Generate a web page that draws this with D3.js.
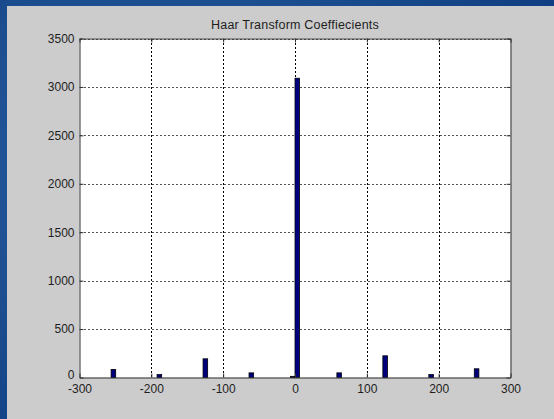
<!DOCTYPE html>
<html>
<head>
<meta charset="utf-8">
<script src="https://cdn.jsdelivr.net/npm/d3@7"></script>
<style>
  html, body { margin: 0; padding: 0; background: #174a8c; }
  svg { display: block; }
  text { font-family: Arial, "Liberation Sans", sans-serif; }
</style>
</head>
<body>
<svg id="chart" width="554" height="419"></svg>
<script>
// Histogram of Haar transform coefficients (bin centre -> count)
const binCenters = [-252.8, -188.8, -124.8, -60.8, -3.2, 3.2, 61.5, 125.5, 189.5, 252.8];
const binCounts  = [83, 30, 193, 48, 12, 3090, 48, 224, 30, 90];
const binWidth = 6.4;

const xTicks = [-300, -200, -100, 0, 100, 200, 300];
const yTicks = [0, 500, 1000, 1500, 2000, 2500, 3000, 3500];
const titleText = "Haar Transform Coeffiecients";

const W = 554, H = 419;
const svg = d3.select("#chart");

// slide background
const defs = svg.append("defs");
const rg = defs.append("radialGradient").attr("id", "bg").attr("cx", "30%").attr("cy", "40%").attr("r", "80%");
rg.append("stop").attr("offset", "0%").attr("stop-color", "#2a5ea0");
rg.append("stop").attr("offset", "100%").attr("stop-color", "#0f3f82");
svg.append("rect").attr("width", W).attr("height", H).attr("fill", "url(#bg)");

// figure panel
svg.append("rect").attr("x", 7).attr("y", 6).attr("width", W - 7).attr("height", H - 6).attr("fill", "#cccccc");

const plot = { left: 79.5, right: 510.5, top: 38.5, bottom: 377.5 };
const x = d3.scaleLinear().domain([-300, 300]).range([plot.left, plot.right]);
const y = d3.scaleLinear().domain([0, 3500]).range([plot.bottom, plot.top]);

// axes background
svg.append("rect")
  .attr("x", plot.left).attr("y", plot.top)
  .attr("width", plot.right - plot.left).attr("height", plot.bottom - plot.top)
  .attr("fill", "#ffffff");

// grid
const grid = svg.append("g").attr("stroke", "#000").attr("stroke-width", 1).attr("stroke-dasharray", "2,2").attr("shape-rendering", "crispEdges");
grid.selectAll("line.v").data(xTicks.slice(1, -1)).enter().append("line")
  .attr("x1", d => Math.round(x(d)) + 0.5).attr("x2", d => Math.round(x(d)) + 0.5)
  .attr("y1", plot.top).attr("y2", plot.bottom);
grid.selectAll("line.h").data(yTicks.slice(1)).enter().append("line")
  .attr("stroke", "#555")
  .attr("y1", d => Math.round(y(d)) + 0.5).attr("y2", d => Math.round(y(d)) + 0.5)
  .attr("x1", plot.left).attr("x2", plot.right);

// bars
const bw = x(binWidth) - x(0);
svg.append("g").selectAll("rect").data(binCenters).enter().append("rect")
  .attr("x", (d) => x(d) - bw / 2)
  .attr("width", bw)
  .attr("y", (d, i) => y(binCounts[i]))
  .attr("height", (d, i) => y(0) - y(binCounts[i]))
  .attr("fill", "#00007f")
  .attr("stroke", "#000")
  .attr("stroke-width", 0.8);

// axes: inward ticks on all four sides
const tickLen = 4;
const plain = d => String(d);
const styleAxis = g => {
  g.select(".domain").attr("stroke", "#333");
  g.selectAll(".tick line").attr("stroke", "#333");
  g.selectAll(".tick text").attr("fill", "#1e1e1e").attr("font-size", "12px")
    .attr("font-family", "Arial, 'Liberation Sans', sans-serif");
};
svg.append("g").attr("transform", `translate(0,${plot.bottom})`)
  .call(d3.axisBottom(x).tickValues(xTicks).tickFormat(plain).tickSizeInner(-tickLen).tickSizeOuter(0).tickPadding(7))
  .call(styleAxis);
svg.append("g").attr("transform", `translate(${plot.left},0)`)
  .call(d3.axisLeft(y).tickValues(yTicks).tickFormat(plain).tickSizeInner(-tickLen).tickSizeOuter(0).tickPadding(5))
  .call(styleAxis)
  .call(g => g.selectAll(".tick text").filter(d => d === 0).attr("dy", "0.05em"));
svg.append("g").attr("transform", `translate(0,${plot.top})`)
  .call(d3.axisTop(x).tickValues(xTicks).tickFormat("").tickSizeInner(-tickLen).tickSizeOuter(0))
  .call(styleAxis);
svg.append("g").attr("transform", `translate(${plot.right},0)`)
  .call(d3.axisRight(y).tickValues(yTicks).tickFormat("").tickSizeInner(-tickLen).tickSizeOuter(0))
  .call(styleAxis);

// title
svg.append("text")
  .attr("x", (plot.left + plot.right) / 2).attr("y", 29)
  .attr("text-anchor", "middle").attr("font-size", "12.5px").attr("fill", "#1e1e1e")
  .attr("letter-spacing", "0.2px")
  .text(titleText);
</script>
</body>
</html>
